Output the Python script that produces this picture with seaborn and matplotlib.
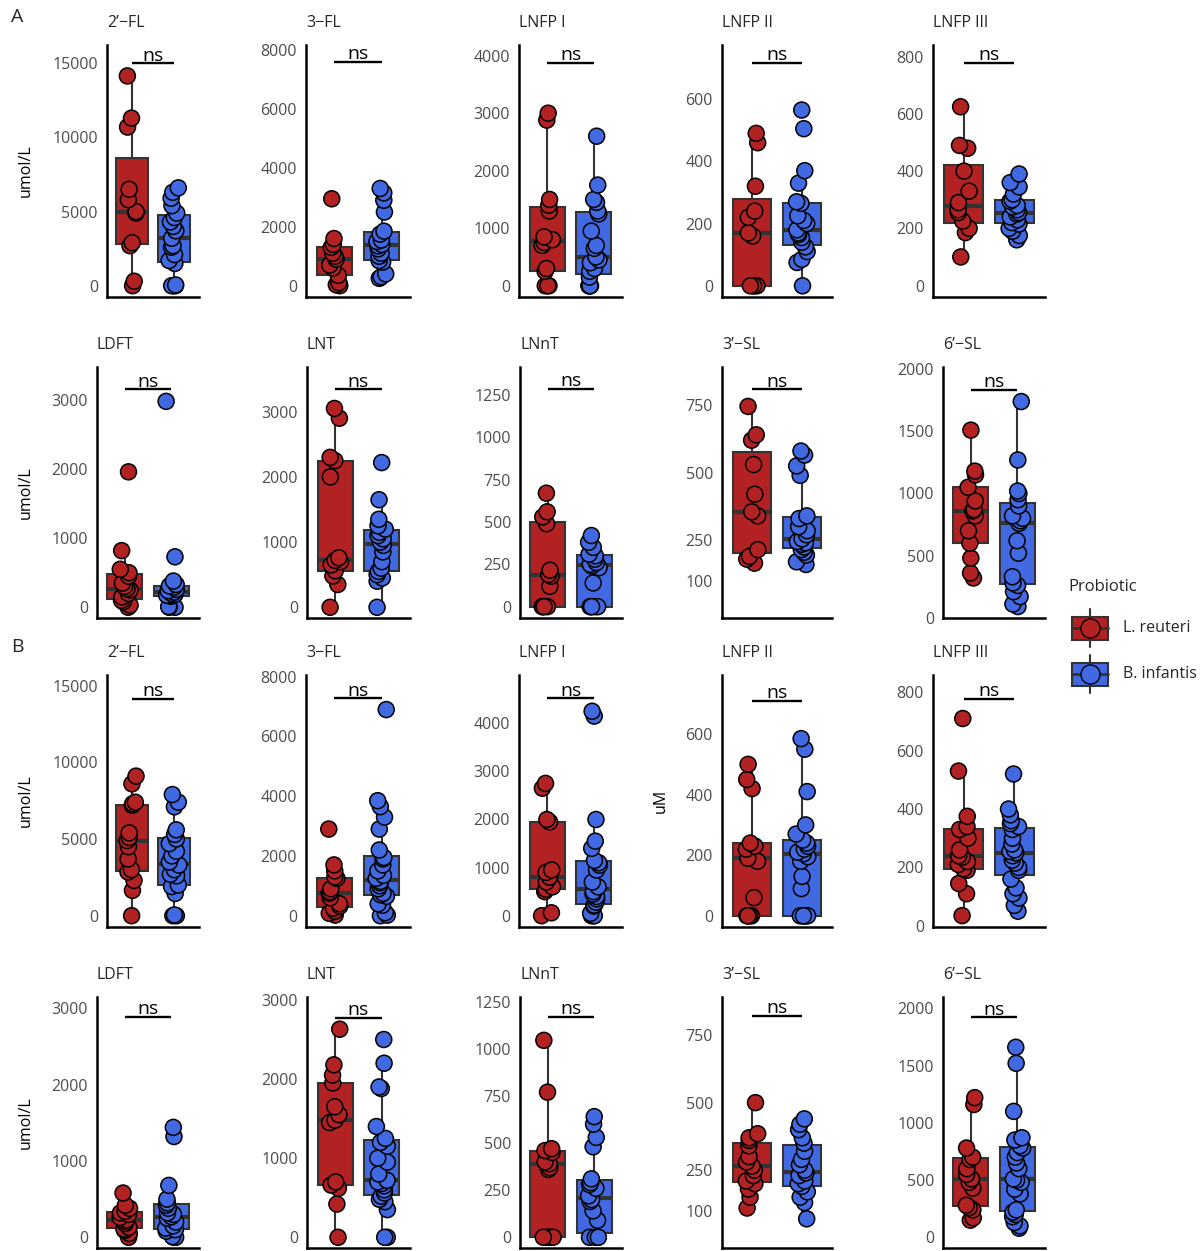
import numpy as np
import pandas as pd
import matplotlib
matplotlib.use("Agg")
import matplotlib.pyplot as plt
import seaborn as sns
from matplotlib.patches import Rectangle

# ---------------- data ----------------
groups = ["L. reuteri", "B. infantis"]
colors = ["#B22222", "#4169E1"]
titles = ["2’−FL", "3−FL", "LNFP I", "LNFP II", "LNFP III",
          "LDFT", "LNT", "LNnT", "3’−SL", "6’−SL"]

# Section A
a_2fl_lr = [0, 300, 2700, 2900, 4900, 5000, 5800, 6500, 10700, 11300, 14150]
a_2fl_bi = [0, 0, 0, 50, 1500, 1700, 2100, 2600, 2700, 3200, 3700, 4000, 4300, 4600, 4900, 5400, 5900, 6300, 6600]
a_3fl_lr = [0, 30, 100, 350, 600, 700, 900, 1000, 1100, 1300, 1400, 1600, 2950]
a_3fl_bi = [250, 300, 400, 800, 850, 1000, 1100, 1250, 1350, 1400, 1500, 1550, 1750, 1850, 2500, 2900, 3150, 3300]
a_lnfp1_lr = [0, 0, 0, 250, 300, 700, 750, 800, 850, 1300, 1400, 1500, 2880, 3000]
a_lnfp1_bi = [0, 0, 0, 0, 150, 250, 300, 400, 450, 500, 650, 700, 950, 1250, 1300, 1450, 1500, 1750, 2600]
a_lnfp2_lr = [0, 0, 0, 0, 160, 170, 220, 240, 320, 460, 490]
a_lnfp2_bi = [0, 75, 85, 110, 125, 140, 155, 165, 170, 180, 200, 210, 225, 265, 270, 330, 370, 505, 565]
a_lnfp3_lr = [100, 185, 200, 225, 255, 265, 290, 330, 400, 480, 490, 625]
a_lnfp3_bi = [160, 175, 190, 200, 215, 220, 230, 240, 250, 255, 265, 275, 280, 295, 300, 320, 345, 360, 390]
a_ldft_lr = [0, 30, 80, 100, 150, 200, 250, 270, 300, 350, 450, 500, 550, 820, 1960]
a_ldft_bi = [0, 0, 10, 160, 165, 175, 185, 200, 220, 240, 260, 290, 310, 330, 380, 730, 2980]
a_lnt_lr = [0, 350, 480, 560, 650, 700, 720, 760, 2000, 2250, 2300, 2900, 3050]
a_lnt_bi = [0, 400, 450, 500, 550, 600, 700, 850, 950, 1000, 1050, 1100, 1150, 1200, 1250, 1350, 1650, 2220]
a_lnnt_lr = [0, 0, 0, 0, 120, 180, 190, 215, 490, 530, 560, 670]
a_lnnt_bi = [0, 0, 0, 0, 0, 140, 230, 240, 250, 260, 280, 300, 310, 350, 380, 420]
a_3sl_lr = [165, 180, 190, 215, 340, 355, 420, 530, 620, 640, 745]
a_3sl_bi = [160, 170, 195, 205, 215, 225, 235, 240, 245, 255, 270, 285, 300, 330, 340, 490, 525, 565, 580]
a_6sl_lr = [320, 360, 480, 600, 700, 820, 860, 870, 940, 1050, 1150, 1180, 1510]
a_6sl_bi = [90, 110, 170, 210, 260, 280, 330, 520, 620, 760, 780, 800, 820, 900, 950, 1000, 1020, 1270, 1740]

# Section B
b_2fl_lr = [0, 1650, 2300, 2850, 3000, 3700, 4500, 4900, 5100, 5400, 7200, 7300, 7400, 8600, 9100]
b_2fl_bi = [0, 0, 50, 1450, 1900, 2000, 2600, 2700, 3000, 3300, 3500, 3900, 4200, 4700, 5000, 5300, 5600, 7100, 7400, 7900]
b_3fl_lr = [20, 80, 150, 250, 320, 400, 600, 750, 800, 900, 1250, 1300, 1500, 1700, 2900]
b_3fl_bi = [0, 20, 100, 350, 400, 650, 700, 750, 900, 1000, 1100, 1150, 1250, 1350, 1500, 1700, 1900, 1950, 2200, 2900, 3300, 3650, 3850, 6900]
b_lnfp1_lr = [0, 60, 500, 550, 600, 700, 800, 900, 950, 1950, 2000, 2650, 2750]
b_lnfp1_bi = [0, 0, 0, 50, 200, 220, 280, 350, 400, 450, 500, 600, 700, 950, 1050, 1100, 1150, 1400, 1550, 2000, 4150, 4250]
b_lnfp2_lr = [0, 0, 0, 0, 60, 180, 190, 220, 230, 240, 420, 450, 500]
b_lnfp2_bi = [0, 0, 0, 0, 0, 0, 90, 130, 180, 195, 205, 210, 220, 230, 240, 250, 270, 300, 410, 550, 585]
b_lnfp3_lr = [35, 110, 145, 190, 195, 210, 220, 235, 240, 260, 300, 330, 340, 375, 530, 710]
b_lnfp3_bi = [50, 70, 95, 110, 130, 160, 190, 200, 215, 225, 240, 250, 255, 260, 280, 300, 330, 340, 350, 360, 380, 400, 520]
b_ldft_lr = [0, 50, 90, 110, 130, 180, 210, 230, 260, 300, 320, 340, 380, 420, 580]
b_ldft_bi = [0, 0, 10, 80, 100, 120, 150, 200, 250, 270, 300, 320, 380, 420, 450, 500, 680, 1320, 1440]
b_lnt_lr = [0, 420, 620, 660, 700, 1450, 1480, 1550, 1650, 1950, 2050, 2180, 2630]
b_lnt_bi = [0, 0, 350, 450, 480, 520, 560, 600, 650, 680, 700, 720, 800, 950, 1000, 1150, 1200, 1250, 1400, 1880, 1900, 2200, 2500]
b_lnnt_lr = [0, 0, 0, 0, 360, 370, 390, 400, 450, 460, 470, 770, 1045]
b_lnnt_bi = [0, 0, 0, 0, 0, 90, 140, 190, 200, 220, 260, 280, 290, 310, 480, 530, 600, 640]
b_3sl_lr = [110, 150, 180, 200, 210, 230, 250, 265, 280, 300, 340, 360, 370, 385, 500]
b_3sl_bi = [70, 130, 150, 170, 190, 200, 210, 230, 240, 250, 270, 290, 320, 350, 370, 400, 420, 440]
b_6sl_lr = [150, 170, 240, 260, 280, 430, 480, 510, 550, 600, 680, 700, 780, 1160, 1220]
b_6sl_bi = [80, 100, 130, 180, 200, 220, 240, 380, 420, 480, 500, 510, 600, 650, 700, 740, 780, 800, 850, 870, 1100, 1520, 1660]

# y-axis ticks per panel (same layout in A and B)
ticks_2fl = [0, 5000, 10000, 15000]
ticks_3fl = [0, 2000, 4000, 6000, 8000]
ticks_lnfp1 = [0, 1000, 2000, 3000, 4000]
ticks_lnfp2 = [0, 200, 400, 600]
ticks_lnfp3 = [0, 200, 400, 600, 800]
ticks_ldft = [0, 1000, 2000, 3000]
ticks_lnt = [0, 1000, 2000, 3000]
ticks_lnnt = [0, 250, 500, 750, 1000, 1250]
ticks_3sl = [100, 250, 500, 750]
ticks_6sl = [0, 500, 1000, 1500, 2000]

# ---------------- layout / style configuration ----------------
W, H = 1202, 1251
ylims = [
    [(-762, 16235), (-384, 8170), (-196, 4186), (-36, 774), (-40, 841)],
    [(-155, 3477), (-164, 3686), (-67, 1415), (-38, 891), (-2, 2018)],
    [(-737, 15695), (-378, 8057), (-235, 5004), (-37, 795), (-4, 859)],
    [(-140, 3148), (-135, 3037), (-57, 1275), (-38, 891), (-93, 2099)],
]
sig_y = [
    [15000, 7603, 3878, 717, 779],
    [3154, 3344, 1284, 808, 1833],
    [14129, 7276, 4520, 710, 776],
    [2890, 2776, 1171, 820, 1921],
]
row_tb = [(45, 297), (367, 618), (675, 927), (997, 1248)]
cols_wide = [(107, 199), (306, 410), (519, 622), (722, 832), (933, 1045)]
cols_narrow = [(97, 199), (307, 410), (520, 622), (722, 832), (943, 1045)]
row_cols = [cols_wide, cols_narrow, cols_wide, cols_narrow]

sns.set_style("white")
plt.rcParams["font.family"] = ["Open Sans", "DejaVu Sans"]

fig = plt.figure(figsize=(W / 100, H / 100), dpi=100, facecolor="white")

panel_data = [
    [(a_2fl_lr, a_2fl_bi), (a_3fl_lr, a_3fl_bi), (a_lnfp1_lr, a_lnfp1_bi), (a_lnfp2_lr, a_lnfp2_bi), (a_lnfp3_lr, a_lnfp3_bi)],
    [(a_ldft_lr, a_ldft_bi), (a_lnt_lr, a_lnt_bi), (a_lnnt_lr, a_lnnt_bi), (a_3sl_lr, a_3sl_bi), (a_6sl_lr, a_6sl_bi)],
    [(b_2fl_lr, b_2fl_bi), (b_3fl_lr, b_3fl_bi), (b_lnfp1_lr, b_lnfp1_bi), (b_lnfp2_lr, b_lnfp2_bi), (b_lnfp3_lr, b_lnfp3_bi)],
    [(b_ldft_lr, b_ldft_bi), (b_lnt_lr, b_lnt_bi), (b_lnnt_lr, b_lnnt_bi), (b_3sl_lr, b_3sl_bi), (b_6sl_lr, b_6sl_bi)],
]
panel_ticks = [
    [ticks_2fl, ticks_3fl, ticks_lnfp1, ticks_lnfp2, ticks_lnfp3],
    [ticks_ldft, ticks_lnt, ticks_lnnt, ticks_3sl, ticks_6sl],
]

np.random.seed(3)
for r in range(4):
    t, b = row_tb[r]
    for c in range(5):
        l, rr = row_cols[r][c]
        ax = fig.add_axes([l / W, 1 - b / H, (rr - l) / W, (b - t) / H])
        lr, bi = panel_data[r][c]
        df = pd.DataFrame({
            "Probiotic": [groups[0]] * len(lr) + [groups[1]] * len(bi),
            "value": list(lr) + list(bi),
        })
        sns.boxplot(data=df, x="Probiotic", y="value", hue="Probiotic",
                    order=groups, hue_order=groups, palette=colors,
                    saturation=1, width=0.75, showfliers=False, showcaps=False,
                    linecolor="#333333", linewidth=1.5,
                    medianprops={"linewidth": 3}, legend=False, ax=ax)
        sns.stripplot(data=df, x="Probiotic", y="value", hue="Probiotic",
                      order=groups, hue_order=groups, palette=colors,
                      jitter=0.12, size=11.5, edgecolor="black", linewidth=1.1,
                      legend=False, ax=ax, zorder=3)
        ax.set_xlim(-0.6, 1.6)
        ax.set_ylim(*ylims[r][c])
        ax.set_yticks(panel_ticks[r % 2][c])
        ax.set_yticklabels([str(v) for v in panel_ticks[r % 2][c]])
        ax.set_xlabel("")
        ax.tick_params(axis="x", length=0, labelbottom=False)
        ax.tick_params(axis="y", length=4.5, width=1.3, color="#333333",
                       labelcolor="#4D4D4D", labelsize=11.5, pad=2)
        for s in ["top", "right"]:
            ax.spines[s].set_visible(False)
        for s in ["left", "bottom"]:
            ax.spines[s].set_color("black")
            ax.spines[s].set_linewidth(1.8)
        ax.set_title(titles[(r % 2) * 5 + c], loc="left", pad=13, fontsize=11.5)
        ylabel = ""
        lab_x = 26
        if c == 0:
            ylabel = "umol/L"
        elif r == 2 and c == 3:
            ylabel = "uM"
            lab_x = 661
        ax.set_ylabel(ylabel, fontsize=11.5, color="black", va="center")
        ax.yaxis.set_label_coords((lab_x - l) / (rr - l), 0.5)
        # significance bar
        sy = sig_y[r][c]
        ax.plot([0, 1], [sy, sy], color="black", lw=1.7, solid_capstyle="butt", zorder=4)
        ax.annotate("ns", xy=(0.5, sy), xytext=(0, 2), textcoords="offset points",
                    ha="center", va="baseline", fontsize=14, color="black")

# panel letters
fig.text(17 / W, 1 - 17 / H, "A", fontsize=14, ha="center", va="center")
fig.text(17 / W, 1 - 647 / H, "B", fontsize=14, ha="center", va="center")

# legend (drawn in pixel coordinates)
ov = fig.add_axes([0, 0, 1, 1])
ov.set_xlim(0, W)
ov.set_ylim(H, 0)
ov.axis("off")
ov.patch.set_alpha(0)
ov.text(1068, 587, "Probiotic", fontsize=12, ha="left", va="center")
for cy, col, lab in [(628, colors[0], groups[0]), (674, colors[1], groups[1])]:
    ov.plot([1090, 1090], [cy - 19, cy + 19], color="#333333", lw=1.5, zorder=1)
    ov.add_patch(Rectangle((1072, cy - 11.5), 36, 23, facecolor=col,
                           edgecolor="#333333", lw=1.5, zorder=2))
    ov.plot([1072, 1108], [cy, cy], color="#333333", lw=2, zorder=3)
    ov.scatter([1090], [cy], s=190, color=col, edgecolor="black", lw=1, zorder=4)
    ov.text(1123, cy, lab, fontsize=11.5, ha="left", va="center")

fig.savefig("out.png", dpi=100, facecolor="white")
